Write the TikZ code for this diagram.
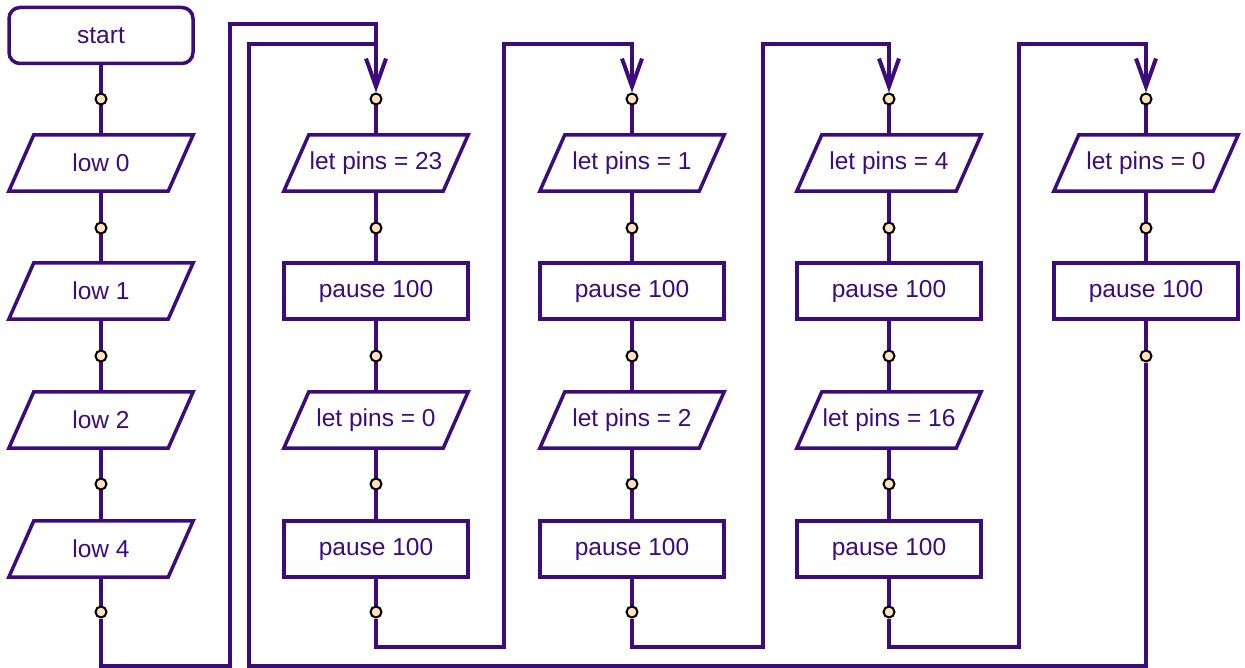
\documentclass[tikz,border=0pt]{standalone}
\usepackage{fontspec}
\setmainfont{Liberation Sans}
\usetikzlibrary{arrows.meta,calc,backgrounds}
\definecolor{ink}{RGB}{60,12,124}
\definecolor{peach}{RGB}{255,224,192}
\begin{document}
\begin{tikzpicture}[x=1pt,y=-1pt,
  txt/.style={font=\fontsize{24.5}{28}\selectfont, text=ink},
  flow/.style={draw=ink, line width=3.5pt},
  proc/.style={txt, rectangle, draw=ink, line width=3.5pt, minimum width=184pt, minimum height=56pt, inner sep=0pt, fill=white},
  io/.style={txt, rectangle, minimum width=184pt, minimum height=56pt, inner sep=0pt},
  term/.style={proc, rounded corners=11pt},
  pt/.style={circle, draw=black, fill=peach, line width=2pt, minimum size=11pt, inner sep=0pt},
  arr/.style={-{Straight Barb[length=28pt,width=20pt,line width=4pt]}}
]
\useasboundingbox (0,0) rectangle (1245,668);

% column 1
\node[term] (start) at (101,35.5) {start};
\node[io] (low0) at (101,163) {low 0};
\node[io] (low1) at (101,291) {low 1};
\node[io] (low2) at (101,420) {low 2};
\node[io] (low4) at (101,549) {low 4};
\foreach \i/\y in {1/99,2/228,3/356,4/484,5/612}
  \node[pt] (d1\i) at (101,\y) {};

% column 2
\node[io] (a1) at (376,163) {let pins = 23};
\node[proc] (a2) at (376,291) {pause 100};
\node[io] (a3) at (376,420) {let pins = 0};
\node[proc] (a4) at (376,549) {pause 100};
% column 3
\node[io] (b1) at (632,163) {let pins = 1};
\node[proc] (b2) at (632,291) {pause 100};
\node[io] (b3) at (632,420) {let pins = 2};
\node[proc] (b4) at (632,549) {pause 100};
% column 4
\node[io] (c1) at (889,163) {let pins = 4};
\node[proc] (c2) at (889,291) {pause 100};
\node[io] (c3) at (889,420) {let pins = 16};
\node[proc] (c4) at (889,549) {pause 100};
% column 5
\node[io] (e1) at (1146,163) {let pins = 0};
\node[proc] (e2) at (1146,291) {pause 100};

\foreach \c/\x in {2/376,3/632,4/889}
  \foreach \i/\y in {1/99,2/228,3/356,4/484,5/612}
    \node[pt] (d\c\i) at (\x,\y) {};
\foreach \i/\y in {1/99,2/228,3/356}
  \node[pt] (d5\i) at (1146,\y) {};

% parallelograms
\foreach \n in {low0,low1,low2,low4,a1,a3,b1,b3,c1,c3,e1}
  \draw[flow] (\n.south west) -- ($(\n.north west)+(25,0)$) -- (\n.north east)
    -- ($(\n.south east)+(-25,0)$) -- cycle;

% waypoints
\coordinate (r1) at (230,666); \coordinate (h1) at (230,24);
\coordinate (r2) at (504,647); \coordinate (h2) at (504,44);
\coordinate (r3) at (763,647); \coordinate (h3) at (763,44);
\coordinate (r4) at (1019,647); \coordinate (h4) at (1019,44);
\coordinate (r5) at (249,666); \coordinate (h5) at (249,44);
\coordinate (j2) at (376,44);

\begin{scope}[on background layer]
  \draw[flow] (start) -- (low0) -- (low1) -- (low2) -- (low4) -- (d15);
  \draw[flow] (d21) -- (a1) -- (a2) -- (a3) -- (a4) -- (d25);
  \draw[flow] (d31) -- (b1) -- (b2) -- (b3) -- (b4) -- (d35);
  \draw[flow] (d41) -- (c1) -- (c2) -- (c3) -- (c4) -- (d45);
  \draw[flow] (d51) -- (e1) -- (e2) -- (d53);
  \draw[flow,arr] (d15) |- (r1) -- (h1) -| (d21);
  \draw[flow,arr] (d25) |- (r2) -- (h2) -| (d31);
  \draw[flow,arr] (d35) |- (r3) -- (h3) -| (d41);
  \draw[flow,arr] (d45) |- (r4) -- (h4) -| (d51);
  \draw[flow] (d53) |- (r5) -- (h5) -- (j2);
\end{scope}
\end{tikzpicture}
\end{document}
